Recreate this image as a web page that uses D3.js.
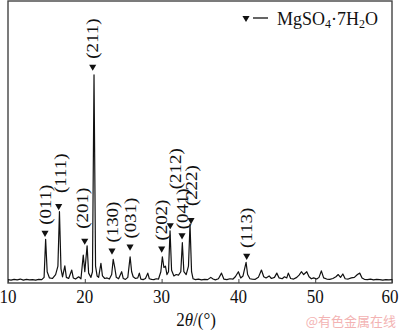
<!DOCTYPE html>
<html>
<head>
<meta charset="utf-8">
<script src="https://cdn.jsdelivr.net/npm/d3@7"></script>
<style>
  html, body { margin: 0; padding: 0; background: #fff; }
  svg { display: block; }
  text { font-family: "Liberation Serif", "Times New Roman", serif; fill: #111; }
</style>
</head>
<body>
<div id="viz"></div>
<script>
// XRD pattern, MgSO4·7H2O
const twoTheta = [
  10.0, 10.4, 10.8, 11.2, 11.6, 12.0, 12.4, 12.8, 13.2, 13.6, 14.0, 14.4, 14.7, 14.9, 15.1, 15.4,
  15.8, 16.2, 16.5, 16.7, 16.9, 17.1, 17.4, 17.6, 17.9, 18.3, 18.5, 18.8, 19.2, 19.5, 19.8, 20.0,
  20.3, 20.5, 20.8, 21.0, 21.2, 21.4, 21.6, 21.8, 22.1, 22.3, 22.6, 22.9, 23.2, 23.5, 23.7, 23.9,
  24.1, 24.4, 24.8, 25.0, 25.3, 25.6, 25.9, 26.1, 26.3, 26.6, 26.9, 27.1, 27.3, 27.6, 27.9, 28.2,
  28.4, 28.7, 29.0, 29.3, 29.6, 29.9, 30.1, 30.3, 30.5, 30.7, 30.9, 31.1, 31.3, 31.6, 31.9, 32.2,
  32.5, 32.7, 32.9, 33.2, 33.5, 33.7, 33.9, 34.1, 34.4, 34.8, 35.2, 35.6, 36.0, 36.4, 36.7, 37.0,
  37.4, 37.8, 38.1, 38.5, 38.9, 39.3, 39.6, 40.0, 40.3, 40.6, 41.0, 41.2, 41.5, 41.8, 42.2, 42.6,
  43.0, 43.3, 43.6, 44.0, 44.3, 44.7, 45.0, 45.3, 45.7, 46.0, 46.3, 46.5, 46.8, 47.2, 47.6, 47.9,
  48.2, 48.5, 48.9, 49.2, 49.5, 49.8, 50.2, 50.5, 50.8, 51.1, 51.5, 51.9, 52.3, 52.7, 53.0, 53.3,
  53.6, 53.9, 54.3, 54.7, 55.1, 55.5, 55.8, 56.1, 56.4, 56.8, 57.2, 57.6, 58.0, 58.4, 58.8, 59.2,
  59.6, 60.0,
];
const intensity = [
  12, 10, 13, 11, 14, 10, 13, 11, 12, 10, 13, 12, 20, 155, 40, 18,
  16, 30, 60, 253, 50, 22, 61, 20, 16, 46, 18, 14, 22, 15, 99, 40,
  132, 35, 20, 40, 738, 60, 25, 20, 70, 25, 16, 18, 14, 30, 84, 55,
  20, 15, 40, 16, 13, 20, 93, 40, 22, 16, 18, 35, 14, 12, 16, 35,
  15, 13, 12, 15, 14, 40, 93, 55, 60, 30, 40, 185, 45, 25, 30, 28,
  40, 143, 40, 30, 60, 209, 40, 15, 12, 14, 11, 13, 12, 20, 14, 11,
  15, 35, 14, 12, 15, 14, 22, 40, 18, 25, 73, 30, 15, 14, 13, 20,
  46, 22, 18, 25, 16, 20, 35, 18, 15, 22, 18, 35, 16, 14, 20, 28,
  40, 30, 40, 22, 15, 18, 14, 20, 43, 18, 14, 13, 16, 22, 30, 20,
  32, 15, 14, 18, 20, 30, 35, 18, 13, 12, 14, 11, 13, 12, 10, 12,
  11, 12,
];

// indexed reflections: position, marker height
const peakHkl = ['(011)', '(111)', '(201)', '(211)', '(130)', '(031)', '(202)', '(212)', '(041)', '(222)', '(113)'];
const peakTheta = [14.82, 16.6, 19.99, 21.03, 23.54, 25.89, 30.01, 31.13, 32.66, 33.83, 41.08];
const peakMark = [178, 273, 150, 767, 115, 129, 122, 205, 169, 223, 96];

const xTicks = [10, 20, 30, 40, 50, 60];

const W = 400, H = 330;
const M = { left: 8, right: 8, top: 1, bottom: 47 };
const STRETCH = 1.08; // glyphs in the figure are a little taller than wide
const LABEL_GAP = { '(111)': 9, '(201)': 8, '(212)': 32, '(222)': 10, '(041)': 2 };
const LABEL_DX = { '(212)': 5, '(111)': 2, '(201)': -2 };

const svg = d3.select('#viz').append('svg').attr('width', W).attr('height', H);

const x = d3.scaleLinear().domain([10, 60]).range([M.left, W - M.right]);
const y = d3.scaleLinear().domain([0, 1000]).range([H - M.bottom, M.top]);

// frame
svg.append('rect')
  .attr('x', M.left).attr('y', M.top)
  .attr('width', W - M.left - M.right).attr('height', H - M.top - M.bottom)
  .attr('fill', 'none').attr('stroke', '#444').attr('stroke-width', 1.4);

// bottom axis, inside ticks
const axis = svg.append('g')
  .attr('transform', `translate(0,${H - M.bottom})`)
  .call(d3.axisBottom(x).tickValues(xTicks).tickSizeInner(-4).tickSizeOuter(0).tickFormat(d3.format('d')));
axis.select('.domain').remove();
axis.selectAll('line').attr('stroke', '#444');
axis.selectAll('text').remove();

svg.selectAll('text.tick-label')
  .data(xTicks)
  .join('text')
  .attr('class', 'tick-label')
  .attr('transform', (d) => `translate(${Math.min(x(d), W - 10)},${303}) scale(1,${STRETCH})`)
  .attr('text-anchor', 'middle')
  .attr('font-size', 17)
  .text((d) => d);

const title = svg.append('text')
  .attr('transform', `translate(196,${326}) scale(1,${STRETCH})`)
  .attr('text-anchor', 'middle')
  .attr('font-size', 17);
title.append('tspan').text('2');
title.append('tspan').attr('font-style', 'italic').text('θ');
title.append('tspan').text('/(°)');

// pattern
const pts = twoTheta.map((t, i) => [t, intensity[i]]);
svg.append('path')
  .datum(pts)
  .attr('fill', 'none')
  .attr('stroke', '#111')
  .attr('stroke-width', 1.2)
  .attr('stroke-linejoin', 'round')
  .attr('d', d3.line().x((d) => x(d[0])).y((d) => y(d[1])));

// markers + hkl labels
const tri = d3.symbol().type(d3.symbolTriangle).size(22);
const peaks = peakHkl.map((h, i) => ({ hkl: h, t: peakTheta[i], m: peakMark[i] }));

svg.selectAll('path.marker')
  .data(peaks)
  .join('path')
  .attr('class', 'marker')
  .attr('d', tri)
  .attr('fill', '#111')
  .attr('transform', (d) => `translate(${x(d.t)},${y(d.m)}) rotate(180)`);

svg.selectAll('text.hkl')
  .data(peaks)
  .join('text')
  .attr('class', 'hkl')
  .attr('transform', (d) => {
    const gap = LABEL_GAP[d.hkl] ?? 4;
    const dx = LABEL_DX[d.hkl] ?? 0;
    return `translate(${x(d.t) + dx},${y(d.m) - 4 - gap}) scale(1,${STRETCH}) rotate(-90)`;
  })
  .attr('dominant-baseline', 'central')
  .attr('font-size', 17.5)
  .text((d) => d.hkl);

// legend
const lg = svg.append('g');
lg.append('path').attr('d', tri).attr('fill', '#111').attr('transform', 'translate(246,18) rotate(180)');
lg.append('line').attr('x1', 253).attr('x2', 268).attr('y1', 18).attr('y2', 18).attr('stroke', '#111').attr('stroke-width', 1.3);
const lt = lg.append('text')
  .attr('transform', `translate(277,25) scale(1,${STRETCH})`)
  .attr('font-size', 18);
lt.append('tspan').text('MgSO');
lt.append('tspan').attr('font-size', 12).attr('dy', 3).text('4');
lt.append('tspan').attr('dy', -3).text('·7H');
lt.append('tspan').attr('font-size', 12).attr('dy', 3).text('2');
lt.append('tspan').attr('dy', -3).text('O');

// watermark
svg.append('text')
  .attr('x', 396).attr('y', 326)
  .attr('text-anchor', 'end')
  .attr('font-size', 13)
  .style('font-family', '"Noto Sans CJK SC", sans-serif')
  .style('fill', '#f3b3b3')
  .text('@有色金属在线');
</script>
</body>
</html>
